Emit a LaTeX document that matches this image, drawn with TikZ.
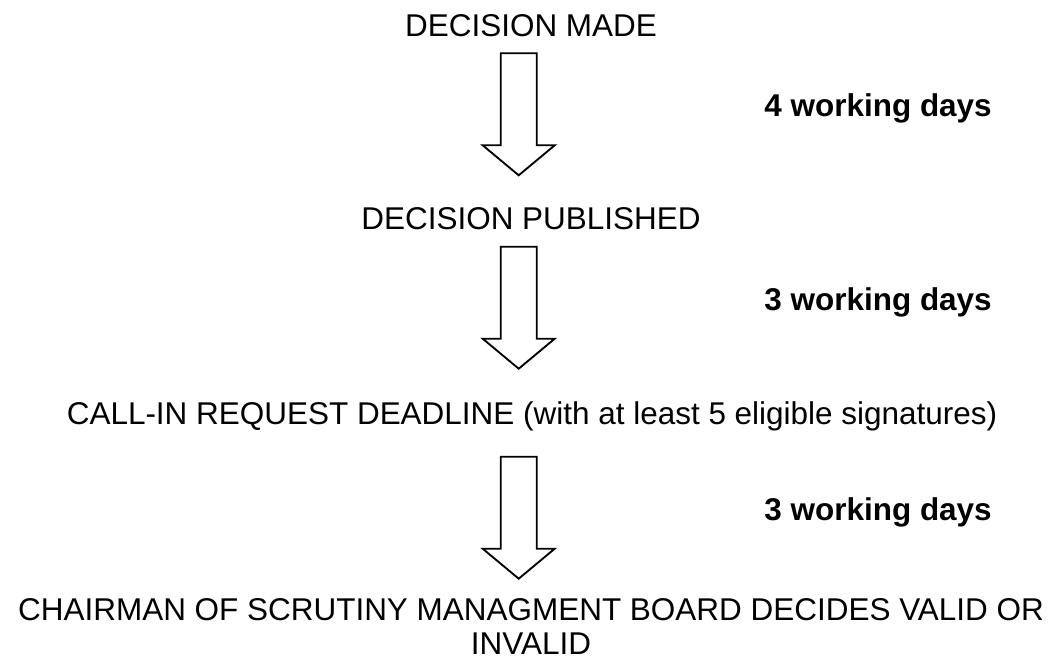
\documentclass[tikz,border=0pt]{standalone}
\usepackage{fontspec}
\setmainfont{Liberation Sans}
\usetikzlibrary{positioning}

\begin{document}
\begin{tikzpicture}[x=0.75pt,y=-0.75pt,
  stage/.style={anchor=base, inner sep=0pt, font=\fontsize{23.6}{25.5}\selectfont, align=center},
  days/.style={anchor=base east, inner sep=0pt, font=\fontsize{23.6}{25.5}\selectfont\bfseries},
  blockarrow/.style={draw, line width=1.4pt, line join=miter}]
\useasboundingbox (0,0) rectangle (1064,659);
\node[stage] (made) at (531,36.7) {DECISION MADE};
\node[stage] (published) at (531,229.5) {DECISION PUBLISHED};
\node[stage] (callin) at (532,424) {CALL-IN REQUEST DEADLINE (with at least 5 eligible signatures)};
\node[stage] (chairman) at (531,654) {CHAIRMAN OF SCRUTINY MANAGMENT BOARD DECIDES VALID OR\\ INVALID};
% block arrows and the time between the stages
\foreach \top/\nd [count=\i] in {53.3/4, 246.7/3, 456.7/3} {
  \draw[blockarrow] (500.7,\top) -- ++(36,0) -- ++(0,92) -- ++(18,0) -- ++(-36,30) -- ++(-36,-30) -- ++(18,0) -- cycle;
  \node[days] (days\i) at (992,\top+63.7) {\nd\ working days};
}
\end{tikzpicture}
\end{document}
